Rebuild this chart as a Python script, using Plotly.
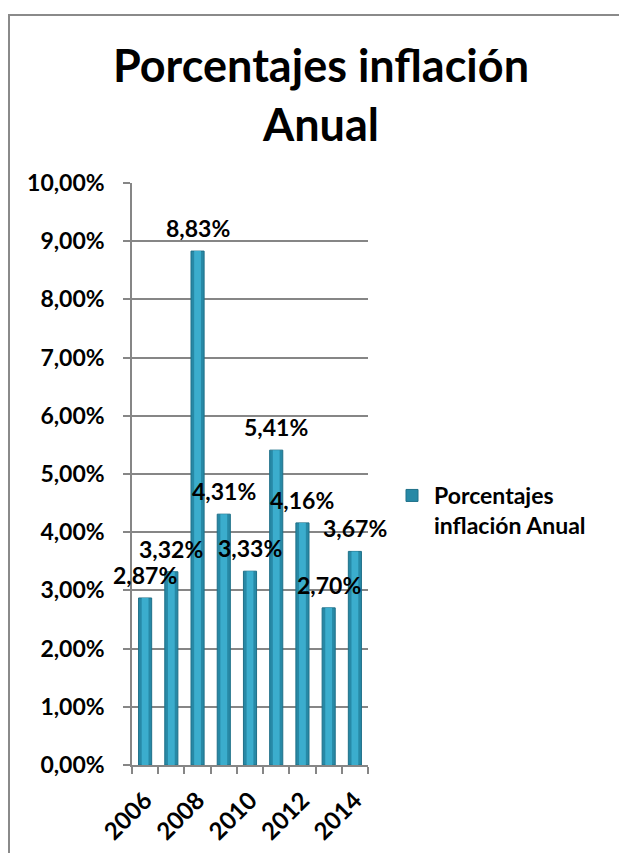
import plotly.graph_objects as go

# Annual inflation rates (%)
years = ["2006", "2007", "2008", "2009", "2010", "2011", "2012", "2013", "2014"]
inflation = [2.87, 3.32, 8.83, 4.31, 3.33, 5.41, 4.16, 2.70, 3.67]
tick_labels = ["2006", "", "2008", "", "2010", "", "2012", "", "2014"]
series_name = "Porcentajes<br>inflación Anual"
title_text = "Porcentajes inflación<br>Anual"

FONT = "Lato"
W, H = 619, 853
ML, MR, MT, MB = 132, 251, 183, 88

fig = go.Figure()

# Outer cylinder body (darker edges)
fig.add_trace(go.Bar(
    x=years, y=inflation, name=series_name, width=0.5,
    marker=dict(color="#2789A6", line=dict(color="#1F7089", width=1)),
    showlegend=True,
))
# Inner highlight strip to give the rounded look
fig.add_trace(go.Bar(
    x=years, y=inflation, width=0.26,
    marker=dict(color="#3BADCD", line=dict(width=0)),
    showlegend=False, hoverinfo="skip",
))

# Value labels above each bar (x given as category index)
for i, v in enumerate(inflation):
    fig.add_annotation(
        x=i, y=v, xref="x", yref="y",
        text=f"{v:.2f}".replace(".", ",") + "%",
        showarrow=False, yanchor="middle", yshift=23,
        font=dict(family=FONT, size=23, color="black", weight="bold"),
    )

# Chart frame
pw = W - ML - MR
ph = H - MT - MB
fig.add_shape(
    type="rect", xref="paper", yref="paper",
    x0=(9 - ML) / pw, x1=(W + 20 - ML) / pw,
    y0=(H - MB - (H + 20)) / ph, y1=(H - MB - 15) / ph,
    line=dict(color="#8A8A8A", width=2), fillcolor="rgba(0,0,0,0)", layer="below",
)

fig.update_layout(
    width=W, height=H,
    margin=dict(l=ML, r=MR, t=MT, b=MB, autoexpand=False),
    paper_bgcolor="white", plot_bgcolor="white",
    barmode="overlay",
    separators=",.",
    title=dict(
        text=title_text, x=321 / W, xanchor="center", y=1 - 82 / H, yanchor="top",
        font=dict(family=FONT, size=45, color="black", weight="bold"),
    ),
    legend=dict(
        x=(390 - ML) / pw, y=(H - MB - 474) / ph, xanchor="left", yanchor="top",
        font=dict(family=FONT, size=23, color="black", weight="bold"),
        valign="top", bgcolor="rgba(0,0,0,0)", itemwidth=34,
    ),
    font=dict(family=FONT, color="black"),
)

fig.update_yaxes(
    range=[0, 10], dtick=1, tickformat=".2f", ticksuffix="%",
    showgrid=True, gridcolor="#868686", gridwidth=1.5,
    showline=True, linecolor="#868686", linewidth=1.5,
    ticks="outside", ticklen=7, tickcolor="#868686", tickwidth=1.5,
    ticklabelstandoff=14, automargin=False,
    tickfont=dict(family=FONT, size=23, color="black", weight="bold"),
    zeroline=False,
)
fig.update_xaxes(
    type="category", range=[-0.5, len(years) - 0.5],
    tickmode="array", tickvals=years, ticktext=tick_labels,
    tickson="boundaries", ticks="outside", ticklen=7, tickcolor="#868686", tickwidth=1.5,
    showline=True, linecolor="#868686", linewidth=1.5,
    tickangle=-45, ticklabelstandoff=10, automargin=False,
    tickfont=dict(family=FONT, size=24, color="black", weight="bold"),
    showgrid=False,
)

fig.write_html("out.html")
